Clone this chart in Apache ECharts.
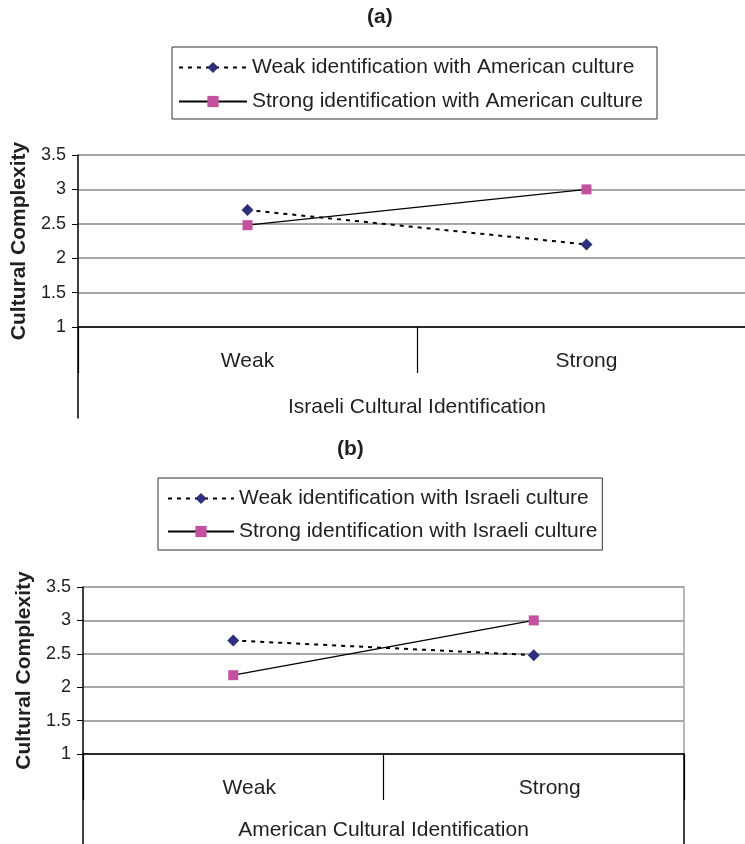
<!DOCTYPE html>
<html>
<head>
<meta charset="utf-8">
<script src="https://cdn.jsdelivr.net/npm/echarts@6/dist/echarts.min.js"></script>
<style>
  html, body { margin: 0; padding: 0; background: #fff; }
  #chart { width: 745px; height: 844px; }
</style>
</head>
<body>
<div id="chart"></div>
<script>
const categories = ['Weak', 'Strong']
const yTicks = { min: 1, max: 3.5, interval: 0.5 }

// (a) Israeli cultural identification on x, split by American identification
const weakAmerican = [2.7, 2.2]
const strongAmerican = [2.48, 3.0]
// (b) American cultural identification on x, split by Israeli identification
const weakIsraeli = [2.7, 2.48]
const strongIsraeli = [2.18, 3.0]

const FONT = 'Arial, "Liberation Sans", sans-serif'
const NAVY = '#2d2e7e'
const PINK = '#c4509f'
const GRID_GREY = '#8a8a8a'

function plotY(gridIndex) {
  return {
    type: 'value',
    gridIndex: gridIndex,
    min: yTicks.min,
    max: yTicks.max,
    interval: yTicks.interval,
    name: 'Cultural Complexity',
    nameLocation: 'middle',
    nameRotate: 90,
    nameGap: 46,
    nameTextStyle: { fontFamily: FONT, fontSize: 21, fontWeight: 'bold', color: '#231f20' },
    axisLine: { show: true, lineStyle: { color: '#000', width: 1.5 } },
    axisTick: { show: true, length: 6, lineStyle: { color: '#000' } },
    axisLabel: { margin: 12, fontFamily: FONT, fontSize: 18, color: '#231f20',
      formatter: v => String(v) },
    splitLine: { show: true, lineStyle: { color: GRID_GREY, width: 1.5 } }
  }
}

function plotX(gridIndex, name, labelShift, nameGap) {
  return {
    type: 'category',
    gridIndex: gridIndex,
    data: categories,
    boundaryGap: true,
    name: name,
    nameLocation: 'middle',
    nameGap: nameGap,
    nameTextStyle: { fontFamily: FONT, fontSize: 21, color: '#231f20' },
    axisLine: { onZero: false, lineStyle: { color: '#000', width: 1.5 } },
    axisTick: { show: true, length: 46, alignWithLabel: false, lineStyle: { color: '#000', width: 1.2 } },
    axisLabel: { margin: 24, fontFamily: FONT, fontSize: 21, color: '#231f20',
      padding: [0, 0, 0, labelShift] }
  }
}

function frameY(gridIndex, position, color) {
  return {
    type: 'value', gridIndex: gridIndex, position: position, min: 0, max: 1,
    axisLine: { show: true, onZero: false, lineStyle: { color: color, width: 1.5 } },
    axisTick: { show: false }, axisLabel: { show: false }, splitLine: { show: false }
  }
}

function hiddenX(gridIndex) {
  return { type: 'value', gridIndex: gridIndex, show: false, min: 0, max: 1 }
}

function lineSeries(name, data, xi, yi, dashed) {
  return {
    name: name,
    type: 'line',
    xAxisIndex: xi,
    yAxisIndex: yi,
    data: data,
    symbol: dashed ? 'diamond' : 'rect',
    symbolSize: dashed ? 12 : 10,
    itemStyle: { color: dashed ? NAVY : PINK },
    lineStyle: { color: '#000', width: dashed ? 2 : 1.3, type: dashed ? [4, 5] : 'solid' },
    z: dashed ? 3 : 2
  }
}

const chart = echarts.init(document.getElementById('chart'), null, { renderer: 'canvas' })

chart.setOption({
  animation: false,
  backgroundColor: '#fff',
  title: [
    { text: '(a)', left: 362, top: 2, textStyle: { fontFamily: FONT, fontSize: 21, fontWeight: 'bold', color: '#231f20' } },
    { text: '(b)', left: 332, top: 434, textStyle: { fontFamily: FONT, fontSize: 21, fontWeight: 'bold', color: '#231f20' } }
  ],
  legend: [
    {
      data: ['Weak identification with American culture', 'Strong identification with American culture'],
      orient: 'vertical', left: 172, top: 47,
      padding: [10, 14, 7, 6],
      itemWidth: 68, itemHeight: 14, itemGap: 13,
      borderColor: '#333', borderWidth: 1,
      textStyle: { fontFamily: FONT, fontSize: 21, color: '#231f20' }
    },
    {
      data: ['Weak identification with Israeli culture', 'Strong identification with Israeli culture'],
      orient: 'vertical', left: 158, top: 478,
      padding: [10, 5, 8, 9],
      itemWidth: 66, itemHeight: 14, itemGap: 12,
      borderColor: '#333', borderWidth: 1,
      textStyle: { fontFamily: FONT, fontSize: 21, color: '#231f20' }
    }
  ],
  grid: [
    { left: 78, top: 155, width: 678, height: 172, outerBoundsMode: 'none' },
    { left: 78, top: 327, width: 678, height: 91, outerBoundsMode: 'none' },
    { left: 83, top: 587, width: 601, height: 167, outerBoundsMode: 'none' },
    { left: 83, top: 754, width: 601, height: 90, outerBoundsMode: 'none' }
  ],
  xAxis: [
    plotX(0, 'Israeli Cultural Identification', 0, 70),
    hiddenX(1),
    plotX(2, 'American Cultural Identification', 32, 66),
    hiddenX(3)
  ],
  yAxis: [
    plotY(0),
    frameY(1, 'left', '#000'),
    plotY(2),
    frameY(2, 'right', '#a0a0a0'),
    frameY(3, 'left', '#000'),
    frameY(3, 'right', '#000')
  ],
  series: [
    lineSeries('Weak identification with American culture', weakAmerican, 0, 0, true),
    lineSeries('Strong identification with American culture', strongAmerican, 0, 0, false),
    lineSeries('Weak identification with Israeli culture', weakIsraeli, 2, 2, true),
    lineSeries('Strong identification with Israeli culture', strongIsraeli, 2, 2, false)
  ]
})
</script>
</body>
</html>
